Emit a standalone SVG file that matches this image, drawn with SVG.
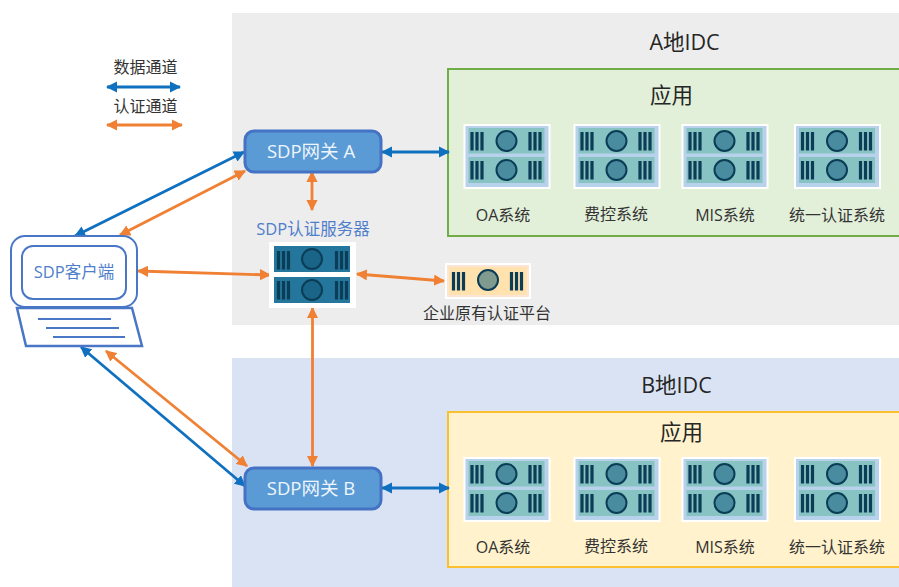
<svg xmlns="http://www.w3.org/2000/svg" width="899" height="587" viewBox="0 0 899 587">
<style>
text{font-family:"Open Sans","Noto Sans CJK SC","Noto Sans",sans-serif;text-anchor:middle}
.t{font-size:16px;fill:#333}
.h{font-size:21.500px;fill:#262626}
.b{font-size:16.500px;fill:#4f7fcb}
.g{font-size:18.500px;fill:#eef5fb}
.cb{stroke:#0f70bf;stroke-width:2.800;fill:none;marker-start:url(#mb);marker-end:url(#mb)}
.co{stroke:#f08033;stroke-width:2.800;fill:none;marker-start:url(#mo);marker-end:url(#mo)}
.gw{fill:#5b9bd5;stroke:#4472c4;stroke-width:3}
.ring{stroke:#0b3d56;stroke-width:2}
.cl{fill:#fff;stroke:#4a76c6;stroke-width:2}
</style>
<defs>
<marker id="mb" viewBox="0 0 10 10" refX="9" refY="5" markerWidth="4" markerHeight="4" orient="auto-start-reverse"><path d="M0 0L10 5L0 10Z" fill="#0f70bf"/></marker>
<marker id="mo" viewBox="0 0 10 10" refX="9" refY="5" markerWidth="4" markerHeight="4" orient="auto-start-reverse"><path d="M0 0L10 5L0 10Z" fill="#f08033"/></marker>
<g id="bars"><path d="M1.500 0v18.500M6.500 0v18.500M11.500 0v18.500" stroke="#0b3d56" stroke-width="3.200" fill="none"/></g>
<g id="srv">
<rect width="87" height="65" fill="#fff"/>
<rect x="2" y="2" width="83" height="61" fill="#b7d2ea"/>
<rect x="5" y="4" width="76" height="25.500" fill="#88c3c4"/>
<rect x="5" y="33" width="76" height="26" fill="#88c3c4"/>
<use href="#bars" x="7" y="8"/><use href="#bars" x="65" y="8"/>
<use href="#bars" x="7" y="37"/><use href="#bars" x="65" y="37"/>
<circle cx="43" cy="17" r="10" fill="#4a8c9f" class="ring"/>
<circle cx="43" cy="46" r="10" fill="#4a8c9f" class="ring"/>
</g>
</defs>
<rect width="899" height="587" fill="#fff"/>
<g id="zone-a"><rect x="232" y="13" width="667" height="312" fill="#ededed"/><text class="h" x="684.500" y="50">A地IDC</text></g>
<g id="zone-b"><rect x="232" y="358" width="667" height="229" fill="#dae3f3"/><text class="h" x="676.500" y="393">B地IDC</text></g>
<g id="app-a"><rect x="448" y="69" width="460" height="167" fill="#e2efd9" stroke="#70ad47" stroke-width="2"/><text class="h" x="671.500" y="103">应用</text></g>
<g id="app-b"><rect x="448" y="412" width="460" height="155" fill="#fff2cc" stroke="#fbc02d" stroke-width="2"/><text class="h" x="681.500" y="440">应用</text></g>
<g id="a-oa"><use href="#srv" x="463.500" y="124"/><text class="t" x="503" y="221">OA系统</text></g>
<g id="a-fee"><use href="#srv" x="573.500" y="124"/><text class="t" x="616" y="220">费控系统</text></g>
<g id="a-mis"><use href="#srv" x="681.500" y="124"/><text class="t" x="725" y="221">MIS系统</text></g>
<g id="a-auth"><use href="#srv" x="794" y="124"/><text class="t" x="837" y="221">统一认证系统</text></g>
<g id="b-oa"><use href="#srv" x="463.500" y="457"/><text class="t" x="503" y="553">OA系统</text></g>
<g id="b-fee"><use href="#srv" x="573.500" y="457"/><text class="t" x="616" y="552">费控系统</text></g>
<g id="b-mis"><use href="#srv" x="681.500" y="457"/><text class="t" x="725" y="553">MIS系统</text></g>
<g id="b-auth"><use href="#srv" x="794" y="457"/><text class="t" x="837" y="553">统一认证系统</text></g>
<g id="legend"><text class="t" x="145.500" y="73">数据通道</text><text class="t" x="145.500" y="112">认证通道</text></g>
<g id="connectors">
<path class="cb" d="M107 87H180"/>
<path class="co" d="M107 125H182"/>
<path class="cb" d="M244 152L75 236"/>
<path class="co" d="M245 171L120 235"/>
<path class="cb" d="M382 152H449"/>
<path class="co" d="M312 172V210"/>
<path class="co" d="M138 271L270 275"/>
<path class="co" d="M357 274L444 281"/>
<path class="co" d="M312.500 308V466"/>
<path class="co" d="M106 351L247 466"/>
<path class="cb" d="M81 347L245 486"/>
<path class="cb" d="M382 488H449"/>
</g>
<g id="gw-a"><rect class="gw" x="245" y="131" width="136" height="41" rx="9"/><text class="g" x="311" y="158">SDP网关 A</text></g>
<g id="gw-b"><rect class="gw" x="245" y="468" width="136" height="41" rx="9"/><text class="g" x="311" y="495">SDP网关 B</text></g>
<g id="auth"><text class="b" x="313" y="235">SDP认证服务器</text>
<rect x="269" y="242" width="87" height="66" fill="#fff"/><rect x="274" y="246" width="76" height="26" fill="#25769c"/><rect x="274" y="277" width="76" height="26" fill="#25769c"/>
<use href="#bars" x="277" y="251"/><use href="#bars" x="335" y="251"/><use href="#bars" x="277" y="281"/><use href="#bars" x="335" y="281"/>
<circle cx="312" cy="259" r="10" fill="#1a6487" class="ring"/><circle cx="312" cy="290" r="10" fill="#1a6487" class="ring"/></g>
<g id="legacy"><rect x="445" y="263" width="86" height="36" fill="#fff"/><rect x="447" y="265" width="82" height="32" fill="#fbe5d6"/><rect x="449" y="267" width="78" height="28" fill="#ffe2ae"/>
<use href="#bars" x="452" y="272"/><use href="#bars" x="510" y="272"/><circle cx="488" cy="280" r="10" fill="#7f9a8e" class="ring"/>
<text class="t" x="487" y="319">企业原有认证平台</text></g>
<g id="client">
<rect class="cl" x="11" y="236" width="126" height="71" rx="14"/>
<rect class="cl" x="22" y="246" width="104" height="53" rx="11"/>
<text class="b" x="74" y="278">SDP客户端</text>
<path class="cl" style="stroke-width:2.500" d="M17 308H132L142 346H26Z"/>
<path d="M38 319H111M46 328H119M53 337H125" stroke="#4a76c6" stroke-width="2" fill="none"/>
</g>
</svg>
